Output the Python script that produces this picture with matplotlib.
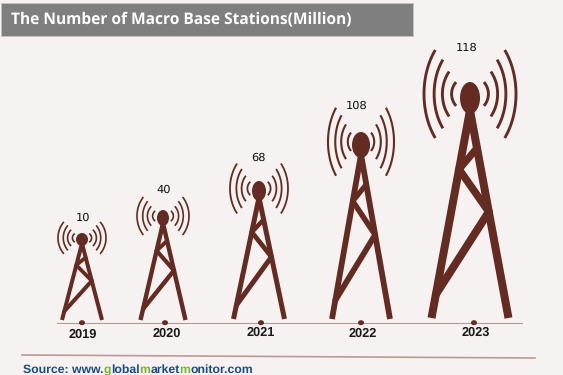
"""
Macro base stations pictogram chart, towers instead of bars
"""
import matplotlib
matplotlib.use('Agg')
import matplotlib.pyplot as plt
import numpy as np
from matplotlib.font_manager import FontProperties
from matplotlib.patches import Ellipse, Rectangle
from matplotlib.textpath import TextPath

plt.rcParams['text.hinting'] = 'no_hinting'

years = ['2019', '2020', '2021', '2022', '2023']
stations = [10, 40, 68, 108, 118]

BG = '#F6F2F1'
TOWER = '#632B22'
RULE = '#B39A92'

# tower layout in pixels, one entry per year
tower_x = [82, 163, 259, 361, 470]
tower_top = [233, 210, 181, 132, 82]
tower_base = [320, 320, 319, 319, 318]
tower_width = [40, 45, 51, 58, 77]
tower_lw = [4.0, 4.4, 5.0, 5.8, 8.0]
head_rx = [6, 6, 7, 9, 10]
head_ry = [6.5, 8, 10, 13, 16]
arc_reach = [24, 26, 29, 33, 46]
arc_span = [16, 19, 25, 34, 44]
label_x = [83, 164, 258, 357, 467]
label_y = [218, 190, 158, 106, 48]
year_x = [83, 167, 261, 363, 476]
year_y = [335, 334, 333, 334, 332]
dot_x = [82, 165, 261, 361, 474]

# brace path as (side, height fraction of the tower): right, left, right, left
BRACE_NODES = [(1, 0.72), (-1, 0.63), (1, 0.45), (-1, 0.10)]
BRACE_WEIGHT = [0.9, 0.95, 1.0]
ARC_STEPS = [(1.0, 1.0), (0.78, 0.78), (0.60, 0.51), (0.40, 0.27)]
APEX = 0.88  # height fraction where the legs would meet


def draw_tower(ax, i):
    cx, top, base = tower_x[i], tower_top[i], tower_base[i]
    h = base - top
    half = tower_width[i] / 2
    lw_pt = tower_lw[i] * 72 / 100

    def leg_pos(side, v):
        return cx + side * half * (1 - v / APEX), base - v * h

    for side in (-1, 1):
        x0, y0 = leg_pos(side, 0)
        x1, y1 = leg_pos(side, APEX)
        ax.plot([x0, x1], [y0, y1], color=TOWER, lw=lw_pt, solid_capstyle='butt')
    for k in range(3):
        p = leg_pos(*BRACE_NODES[k])
        q = leg_pos(*BRACE_NODES[k + 1])
        ax.plot([p[0], q[0]], [p[1], q[1]], color=TOWER, lw=lw_pt * BRACE_WEIGHT[k],
                solid_capstyle='round')
    ax.add_patch(Ellipse((cx, top + head_ry[i]), 2 * head_rx[i], 2 * head_ry[i],
                         color=TOWER, lw=0, zorder=3))
    # signal arcs on both sides of the head
    cy = top + head_ry[i] * 0.75
    t = np.radians(np.linspace(-41, 41, 40))
    for rs, ss in ARC_STEPS:
        rx = arc_reach[i] * rs
        ry = arc_span[i] * ss / np.sin(np.radians(41))
        for side in (-1, 1):
            ax.plot(cx + side * rx * np.cos(t), cy + ry * np.sin(t), color=TOWER,
                    lw=max(lw_pt * 0.36, 1.2), solid_capstyle='butt')


fig = plt.figure(figsize=(5.63, 3.75), dpi=100, facecolor=BG)
ax = fig.add_axes([0, 0, 1, 1])
ax.set_xlim(0, 563)
ax.set_ylim(375, 0)
ax.axis('off')

# title bar
ax.add_patch(Rectangle((1, 3), 412, 33, facecolor='#7F7F7F', edgecolor='#C8C4C0', lw=0.6))
ax.text(11, 19, 'The Number of Macro Base Stations(Million)', color='white',
        family='Open Sans', fontweight='bold', fontsize=11.2, va='center', ha='left')

# thin rule under the towers
ax.plot([57, 522], [322.5, 322.5], color=RULE, lw=0.8, zorder=1)

for i in range(len(years)):
    draw_tower(ax, i)
    ax.add_patch(Ellipse((dot_x[i], 322.7), 6, 5, color=TOWER, lw=0, zorder=3))
    ax.text(label_x[i], label_y[i], str(stations[i]), color='#111111',
            family='DejaVu Sans', fontsize=8.2, ha='center', va='center')
    ax.text(year_x[i], year_y[i], years[i], color='#1A1A1A', family='Liberation Sans',
            fontweight='bold', fontsize=9.2, ha='center', va='center')

# source line, lower rule slopes slightly
ax.plot([22, 535], [355, 358], color='#B89A96', lw=1.2)

pieces = [('Source: www.', '#1B4A8A'), ('g', '#7AB32E'), ('lobal', '#1B4A8A'),
          ('m', '#7AB32E'), ('arket', '#1B4A8A'), ('m', '#7AB32E'), ('onitor.com', '#1B4A8A')]
SOURCE_PT = 8.8
fp = FontProperties(family='Liberation Sans', weight='bold')


def advance_px(s):
    # bar glyph on the end so trailing bearings are counted
    end = TextPath((0, 0), s + '|', size=SOURCE_PT, prop=fp).get_extents().x1
    bar = TextPath((0, 0), '|', size=SOURCE_PT, prop=fp).get_extents().x1
    return (end - bar) * 100 / 72


prefix = ''
for txt, col in pieces:
    ax.text(23 + advance_px(prefix), 373, txt, color=col, family='Liberation Sans',
            fontweight='bold', fontsize=SOURCE_PT, ha='left', va='baseline')
    prefix += txt

fig.savefig('out.png', dpi=100, facecolor=BG)
plt.close(fig)
